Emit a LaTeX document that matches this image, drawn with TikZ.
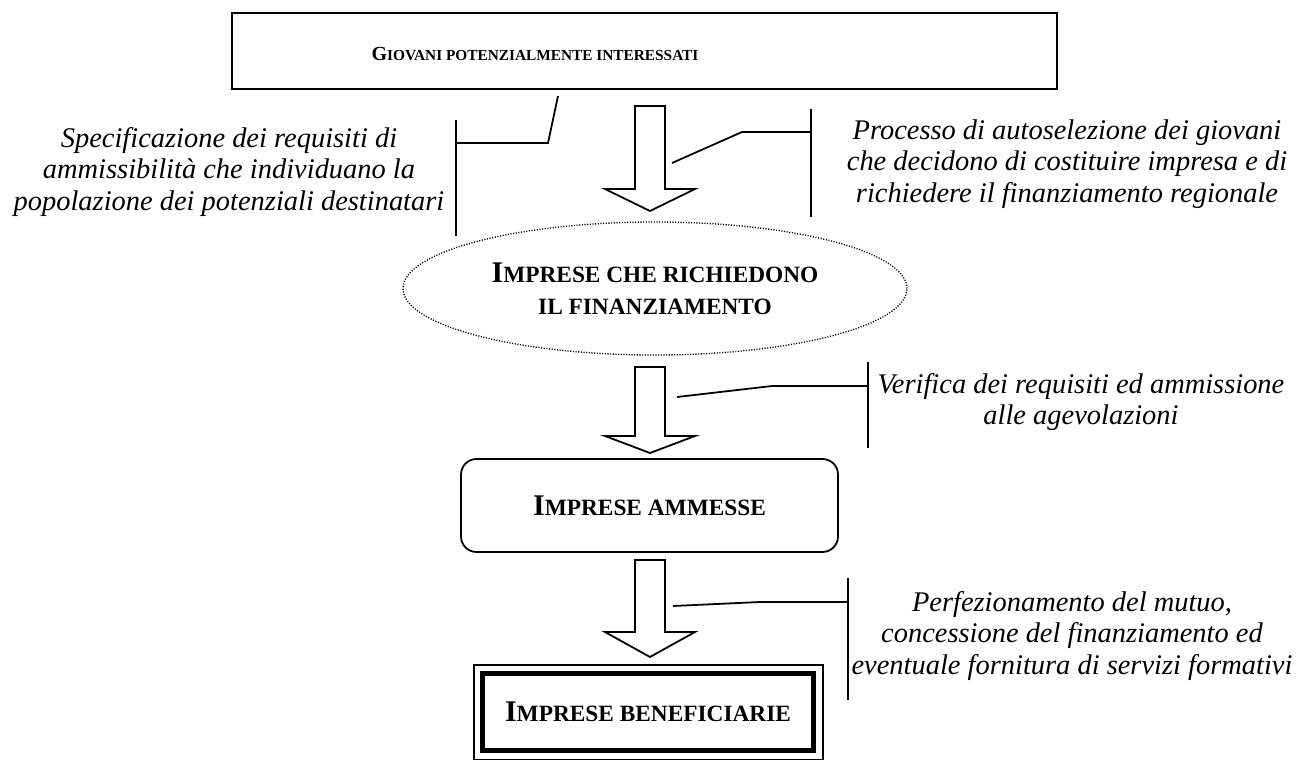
\documentclass[tikz,border=0pt]{standalone}
\usepackage{fontspec}
\setmainfont{Liberation Serif}
\usetikzlibrary{shapes.geometric,calc}

% maiuscoletto simulato: iniziale grande, resto piccolo
\newcommand{\capsbig}[2]{{\fontsize{13.5}{14.4}\selectfont #1}{\fontsize{10.5}{14.4}\selectfont #2}}
\newcommand{\capssmall}[2]{{\fontsize{9}{11}\selectfont #1}{\fontsize{6.9}{11}\selectfont #2}}

\tikzset{
  stage/.style={draw, line width=0.8pt, inner sep=0pt, align=center, font=\bfseries\fontsize{13.5}{14.4}\selectfont},
  note/.style={align=center, inner sep=0pt, font=\fontsize{12.8}{14.2}\selectfont\itshape},
  blockarrow/.style={draw, line width=0.8pt, fill=white},
  bracket/.style={line width=0.8pt},
}

\begin{document}
\begin{tikzpicture}[x=0.45pt, y=-0.45pt]
        \useasboundingbox (0,0) rectangle (1296,760);

        % --- caselle ---
        \node[stage, minimum width=371.25pt, minimum height=34.2pt] (giovani) at (644.5,51) {};
        \node[font=\bfseries, inner sep=0pt] (giovanitxt) at (535,54) {\capssmall{G}{IOVANI POTENZIALMENTE INTERESSATI}};
        \node[stage, ellipse, line width=0.6pt, dash pattern=on 0.5pt off 0.7pt,
              minimum width=226.8pt, minimum height=59.85pt] (richiedono) at (655,288.5)
              {\capsbig{I}{MPRESE CHE RICHIEDONO}\\\capsbig{}{IL FINANZIAMENTO}};
        \node[stage, rounded corners=7pt, minimum width=169.65pt, minimum height=41.85pt] (ammesse) at (649.5,505.5)
              {\capsbig{I}{MPRESE AMMESSE}};
        \node[stage, line width=2.25pt, minimum width=148.95pt, minimum height=34.65pt] (beneficiarie) at (648,712)
              {\capsbig{I}{MPRESE BENEFICIARIE}};
        % cornice esterna sottile
        \draw[line width=0.9pt] ($(beneficiarie.north west)+(-6.5,-6.5)$) rectangle ($(beneficiarie.south east)+(6.5,6.5)$);

        % --- frecce a blocco ---
        \foreach \ya/\yb/\yc in {106/189/211, 367/436/453, 560/632/657} {
            \draw[blockarrow] (635,\ya) -- (665,\ya) -- (665,\yb) -- (695,\yb) -- (650,\yc) -- (605,\yb) -- (635,\yb) -- cycle;
        }

        % --- parentesi e linee di richiamo ---
        \foreach \bx/\bt/\bb/\hy/\kx/\ex/\ey [count=\i] in {456/120/236/143/548/558/96, 811/109/217/132/742/672/163,
                                                           868/362/448/386/772/677/397, 848/578/700/602/760/673/606} {
            \coordinate (bt\i) at (\bx,\bt);
            \coordinate (bb\i) at (\bx,\bb);
            \coordinate (bm\i) at (\bx,\hy);
            \coordinate (be\i) at (\ex,\ey);
            \draw[bracket] (bt\i) -- (bb\i);
            \draw[bracket] (bm\i) -- (\kx,\hy) -- (be\i);
        }

        % --- note ---
        \node[note] (specifica) at (229,172) {Specificazione dei requisiti di\\ammissibilità che individuano la\\popolazione dei potenziali destinatari};
        \node[note] (processo) at (1067,164) {Processo di autoselezione dei giovani\\che decidono di costituire impresa e di\\richiedere il finanziamento regionale};
        \node[note] (verifica) at (1081,402) {Verifica dei requisiti ed ammissione\\alle agevolazioni};
        \node[note] (perfeziona) at (1072,636) {Perfezionamento del mutuo,\\concessione del finanziamento ed\\eventuale fornitura di servizi formativi};

    \end{tikzpicture}
\end{document}
